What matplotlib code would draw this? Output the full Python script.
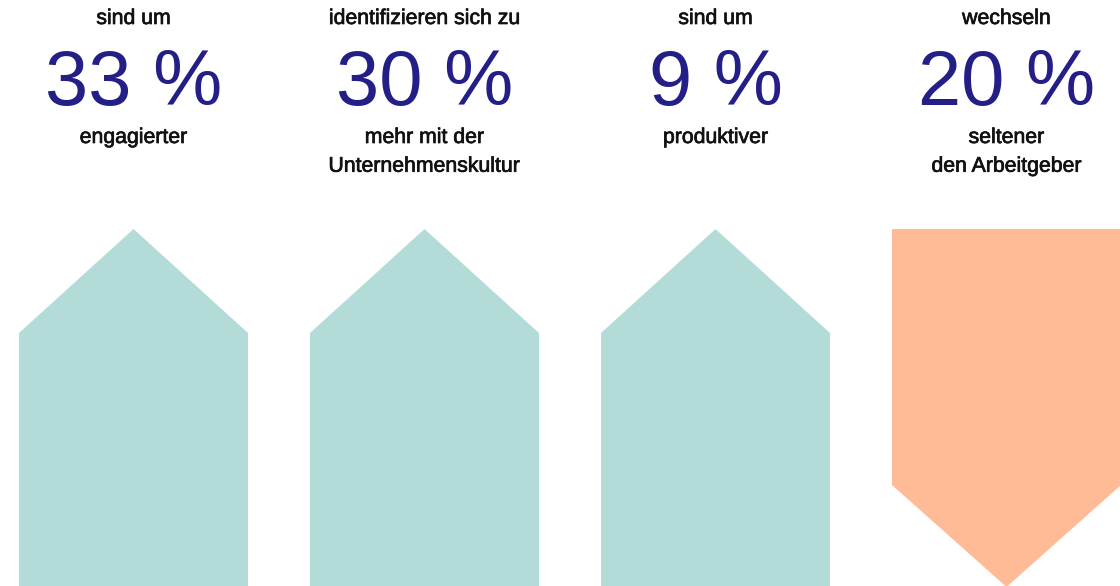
"""
Kennzahlen-Grafik: vier Werte mit Pfeilsymbolen (hoch = mehr, runter = weniger).
"""

import matplotlib.pyplot as plt
import matplotlib.patheffects as pe
from matplotlib.patches import Polygon

# Daten
values = [33, 30, 9, 20]
labels_top = ['sind um', 'identifizieren sich zu', 'sind um', 'wechseln']
labels_bottom = ['engagierter', 'mehr mit der\nUnternehmenskultur', 'produktiver',
                 'seltener\nden Arbeitgeber']
directions = ['up', 'up', 'up', 'down']

TEAL = '#b3dcd8'
ORANGE = '#febb96'
NAVY = '#241e87'
TEXT = '#111111'

W, H = 1120, 586
fig = plt.figure(figsize=(W / 100, H / 100), dpi=100)
ax = fig.add_axes([0, 0, 1, 1])
ax.set_xlim(0, W)
ax.set_ylim(H, 0)
ax.axis('off')

plt.rcParams['font.family'] = ['Liberation Sans', 'DejaVu Sans']

# etwas kräftigere Schrift für die kleinen Texte
heavier = [pe.withStroke(linewidth=0.5, foreground=TEXT)]

col_left = 19
col_step = 291
col_width = 229
shape_top = 229
shape_bottom = 586
tip_height = 104

for i, (val, top, bottom, d) in enumerate(zip(values, labels_top, labels_bottom, directions)):
    x0 = col_left + i * col_step
    x1 = x0 + col_width
    xc = (x0 + x1) / 2

    ax.text(xc, 18.5, top, ha='center', va='center', fontsize=15.3, color=TEXT,
            path_effects=heavier)
    ax.text(xc, 105, f'{val} %', ha='center', va='baseline', fontsize=56, color=NAVY)
    ax.text(xc, 128, bottom, ha='center', va='top', fontsize=15.3, color=TEXT,
            linespacing=1.65, path_effects=heavier)

    if d == 'up':
        pts = [(x0, shape_bottom), (x0, shape_top + tip_height), (xc, shape_top),
               (x1, shape_top + tip_height), (x1, shape_bottom)]
        color = TEAL
    else:
        pts = [(x0, shape_top), (x1, shape_top), (x1, shape_bottom - tip_height + 3),
               (xc, shape_bottom + 1), (x0, shape_bottom - tip_height + 3)]
        color = ORANGE
    ax.add_patch(Polygon(pts, closed=True, facecolor=color, edgecolor='none'))

fig.savefig('out.png', dpi=100, facecolor='white')
